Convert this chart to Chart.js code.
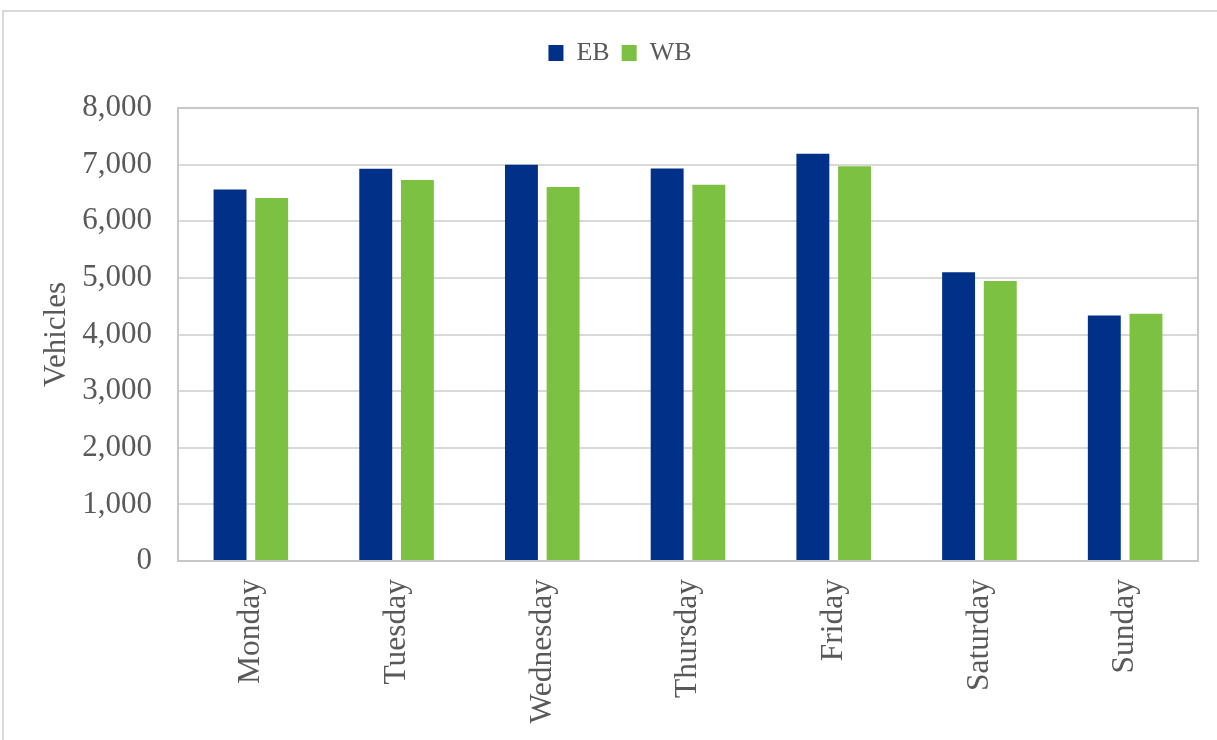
<!DOCTYPE html>
<html>
<head>
<meta charset="utf-8">
<title>Vehicles by day</title>
<script src="https://cdn.jsdelivr.net/npm/chart.js@4.4.1/dist/chart.umd.min.js"></script>
<style>
    html, body { margin: 0; padding: 0; background: #fff; }
    #wrap { width: 1217px; height: 740px; }
</style>
</head>
<body>
<div id="wrap"><canvas id="vehicleChart" width="1217" height="740"></canvas></div>
<script>
// daily volumes per direction
const days = ['Monday', 'Tuesday', 'Wednesday', 'Thursday', 'Friday', 'Saturday', 'Sunday'];
const ebVolumes = [6560, 6925, 7000, 6930, 7190, 5100, 4335];
const wbVolumes = [6410, 6730, 6605, 6645, 6970, 4945, 4365];
const yTicks = [0, 1000, 2000, 3000, 4000, 5000, 6000, 7000, 8000];

const textColor = '#595959';
const gridColor = '#d9d9d9';
const serif = "'Liberation Serif', 'Times New Roman', serif";

// frame around the whole chart and around the plot area
const framePlugin = {
    id: 'frames',
    beforeLayout(chart) {
        // leave more room between the legend and the plot
        const lg = chart.legend;
        if (lg && !lg._extraGap) {
            const fit = lg.fit.bind(lg);
            lg.fit = function () { fit(); this.height += 32; };
            lg._extraGap = true;
        }
    },
    afterLayout(chart) {
        // legend sits a little right of centre
        if (chart.legend) {
            chart.legend.left += 21;
            chart.legend.right += 21;
        }
    },
    beforeDraw(chart) {
        const ctx = chart.ctx;
        ctx.save();
        ctx.strokeStyle = '#d9d9d9';
        ctx.lineWidth = 2;
        ctx.strokeRect(3, 11, chart.width + 10, chart.height + 10);
        ctx.restore();
    },
    afterDatasetsDraw(chart) {
        const { left, top, right, bottom } = chart.chartArea;
        const ctx = chart.ctx;
        ctx.save();
        ctx.strokeStyle = '#c8c8c8';
        ctx.lineWidth = 2;
        ctx.strokeRect(left, top, right - left, bottom - top);
        ctx.restore();
    }
};

new Chart(document.getElementById('vehicleChart').getContext('2d'), {
    type: 'bar',
    data: {
        labels: days,
        datasets: [
            { label: 'EB', data: ebVolumes, backgroundColor: '#003087', categoryPercentage: 0.572, barPercentage: 0.79 },
            { label: 'WB', data: wbVolumes, backgroundColor: '#7dc142', categoryPercentage: 0.572, barPercentage: 0.79 }
        ]
    },
    options: {
        responsive: false,
        animation: false,
        layout: { padding: { top: 28, left: 0, right: 19, bottom: 0 } },
        plugins: {
            legend: {
                position: 'top',
                labels: {
                    boxWidth: 15,
                    boxHeight: 16,
                    padding: 12,
                    color: textColor,
                    font: { family: serif, size: 26 }
                }
            },
            tooltip: { enabled: false }
        },
        scales: {
            x: {
                grid: { display: false, drawTicks: false },
                border: { color: '#c8c8c8', width: 2 },
                ticks: {
                    color: textColor,
                    font: { family: serif, size: 31.5 },
                    maxRotation: 90,
                    minRotation: 90,
                    padding: 18
                },
                afterFit(scale) { scale.height = 179; }
            },
            y: {
                min: 0,
                max: 8000,
                afterBuildTicks(scale) { scale.ticks = yTicks.map(v => ({ value: v })); },
                grid: { color: gridColor, lineWidth: 2, drawTicks: false },
                border: { color: '#c8c8c8', width: 2 },
                ticks: {
                    color: textColor,
                    font: { family: serif, size: 31 },
                    padding: 26,
                    callback: (v) => v.toLocaleString('en-US')
                },
                title: {
                    display: true,
                    text: 'Vehicles',
                    color: textColor,
                    font: { family: serif, size: 31 },
                    padding: { top: 38, bottom: 0 }
                },
                afterFit(scale) { scale.width = 178; }
            }
        }
    },
    plugins: [framePlugin]
});
</script>
</body>
</html>
